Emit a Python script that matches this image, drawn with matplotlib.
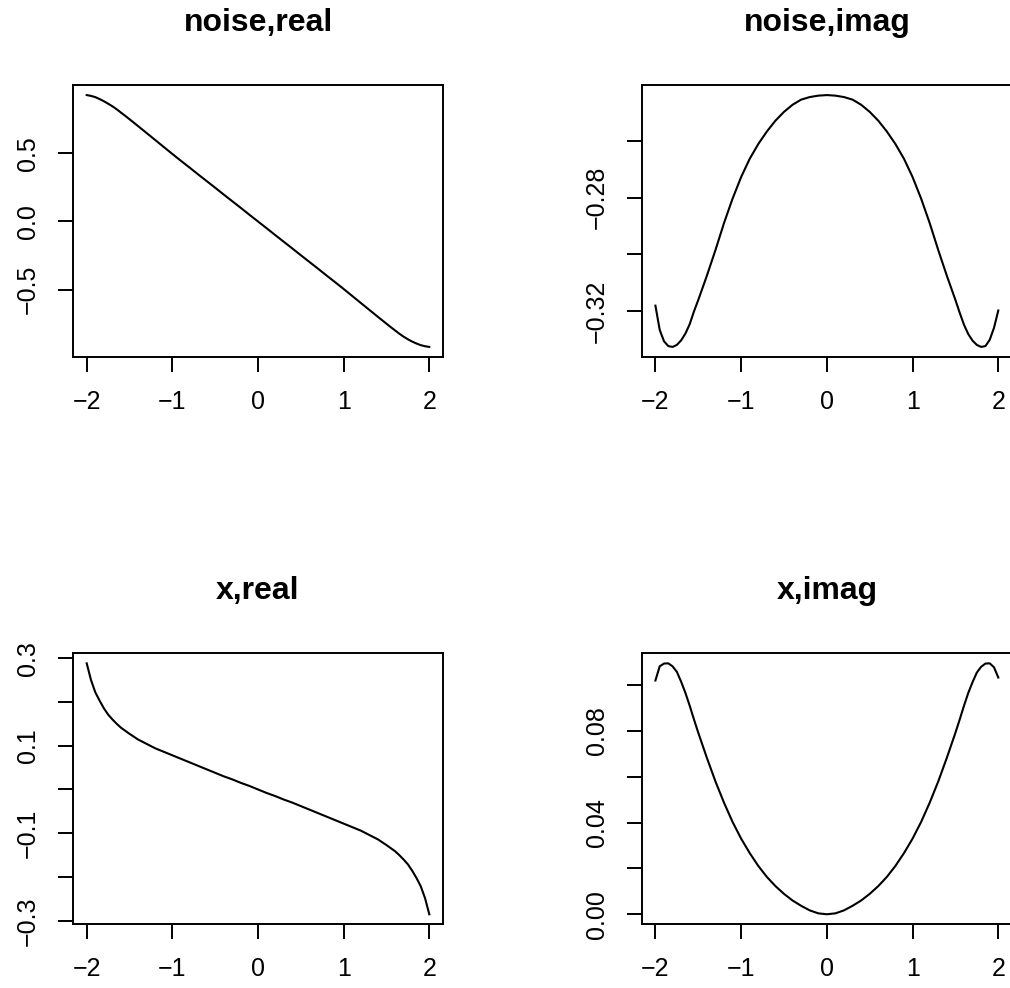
import numpy as np
import matplotlib
matplotlib.use("Agg")
import matplotlib.pyplot as plt

plt.rcParams['font.family'] = ['Liberation Sans', 'DejaVu Sans']

# grid shared by all four panels (finer near the ends where the curves bend)
x_vals = [-2.0, -1.95, -1.9, -1.85, -1.8, -1.75, -1.7, -1.65, -1.6, -1.55, -1.5,
          -1.4, -1.3, -1.2, -1.1, -1.0, -0.9, -0.8, -0.7, -0.6, -0.5,
          -0.4, -0.3, -0.2, -0.1, 0.0, 0.1, 0.2, 0.3, 0.4, 0.5,
          0.6, 0.7, 0.8, 0.9, 1.0, 1.1, 1.2, 1.3, 1.4,
          1.5, 1.55, 1.6, 1.65, 1.7, 1.75, 1.8, 1.85, 1.9, 1.95, 2.0]

noise_real = [0.925, 0.919, 0.910, 0.896, 0.880, 0.862, 0.843, 0.821, 0.797, 0.773, 0.748,
              0.698, 0.647, 0.596, 0.545, 0.494, 0.444, 0.395, 0.345, 0.296, 0.247,
              0.197, 0.148, 0.099, 0.049, 0.0, -0.049, -0.099, -0.148, -0.197, -0.247,
              -0.296, -0.345, -0.395, -0.444, -0.494, -0.545, -0.596, -0.647, -0.698,
              -0.748, -0.773, -0.797, -0.821, -0.843, -0.862, -0.879, -0.893, -0.905, -0.913, -0.918]

noise_imag = [-0.3180, -0.3265, -0.3305, -0.3322, -0.3325, -0.3318, -0.3302, -0.3278, -0.3245, -0.3200, -0.3160,
              -0.3075, -0.2985, -0.2890, -0.2804, -0.2728, -0.2664, -0.2612, -0.2568, -0.2530, -0.2499,
              -0.2474, -0.2456, -0.2447, -0.2442, -0.2440, -0.2442, -0.2447, -0.2456, -0.2474, -0.2499,
              -0.2530, -0.2568, -0.2612, -0.2664, -0.2728, -0.2804, -0.2890, -0.2985, -0.3075,
              -0.3160, -0.3205, -0.3247, -0.3280, -0.3303, -0.3318, -0.3325, -0.3322, -0.3300, -0.3258, -0.3197]

x_real = [0.288, 0.250, 0.222, 0.203, 0.1855, 0.171, 0.160, 0.150, 0.141, 0.134, 0.127,
          0.114, 0.104, 0.094, 0.086, 0.078, 0.070, 0.062, 0.054, 0.046, 0.038,
          0.030, 0.023, 0.015, 0.008, 0.0, -0.008, -0.015, -0.023, -0.030, -0.038,
          -0.046, -0.054, -0.062, -0.070, -0.078, -0.086, -0.094, -0.104, -0.114,
          -0.127, -0.134, -0.141, -0.150, -0.160, -0.171, -0.1855, -0.202, -0.221, -0.248, -0.285]

x_imag = [0.1020, 0.1082, 0.1094, 0.1095, 0.1082, 0.1058, 0.1015, 0.0966, 0.0910, 0.0850, 0.0792,
          0.0683, 0.0580, 0.0487, 0.0403, 0.0330, 0.0267, 0.0211, 0.0163, 0.0123, 0.0089,
          0.0060, 0.0037, 0.0017, 0.0004, 0.0000, 0.0004, 0.0017, 0.0037, 0.0060, 0.0089,
          0.0123, 0.0163, 0.0211, 0.0267, 0.0330, 0.0403, 0.0487, 0.0580, 0.0683,
          0.0792, 0.0850, 0.0910, 0.0966, 0.1013, 0.1055, 0.1080, 0.1094, 0.1095, 0.1078, 0.1033]

titles = ["noise,real", "noise,imag", "x,real", "x,imag"]
series = [noise_real, noise_imag, x_real, x_imag]

x_ticks = [-2, -1, 0, 1, 2]
y_ticks = [
    [-0.5, 0.0, 0.5],
    [-0.32, -0.30, -0.28, -0.26],
    [-0.3, -0.2, -0.1, 0.0, 0.1, 0.2, 0.3],
    [0.00, 0.02, 0.04, 0.06, 0.08, 0.10],
]
y_labels = [
    ["\u22120.5", "0.0", "0.5"],
    ["\u22120.32", "", "\u22120.28", ""],
    ["\u22120.3", "", "\u22120.1", "", "0.1", "", "0.3"],
    ["0.00", "", "0.04", "", "0.08", ""],
]

W, H = 1010, 988
fig = plt.figure(figsize=(W / 100, H / 100), dpi=100)

# panel boxes in pixels: left, top, right, bottom
boxes = [
    (73, 85, 443, 357),
    (641.7, 85, 1012, 357),
    (73, 653.3, 443, 924.3),
    (641.7, 653.3, 1012, 924.3),
]

for i in range(4):
    l, t, r, b = boxes[i]
    ax = fig.add_axes([l / W, 1 - b / H, (r - l) / W, (b - t) / H])
    ax.plot(x_vals, series[i], color='black', linewidth=1.5)
    ax.margins(x=0.04, y=0.04)
    ax.set_xticks(x_ticks)
    ax.set_xticklabels([str(v).replace('-', '\u2212') for v in x_ticks])
    ax.set_yticks(y_ticks[i])
    ax.set_yticklabels(y_labels[i], rotation=90, va='center')
    ax.tick_params(axis='both', length=10.8, width=1.4, labelsize=18, pad=13, color='black')
    for sp in ax.spines.values():
        sp.set_linewidth(1.4)
    ax.set_title(titles[i], fontsize=23, fontweight='bold', pad=39)

fig.savefig("out.png", dpi=100)
